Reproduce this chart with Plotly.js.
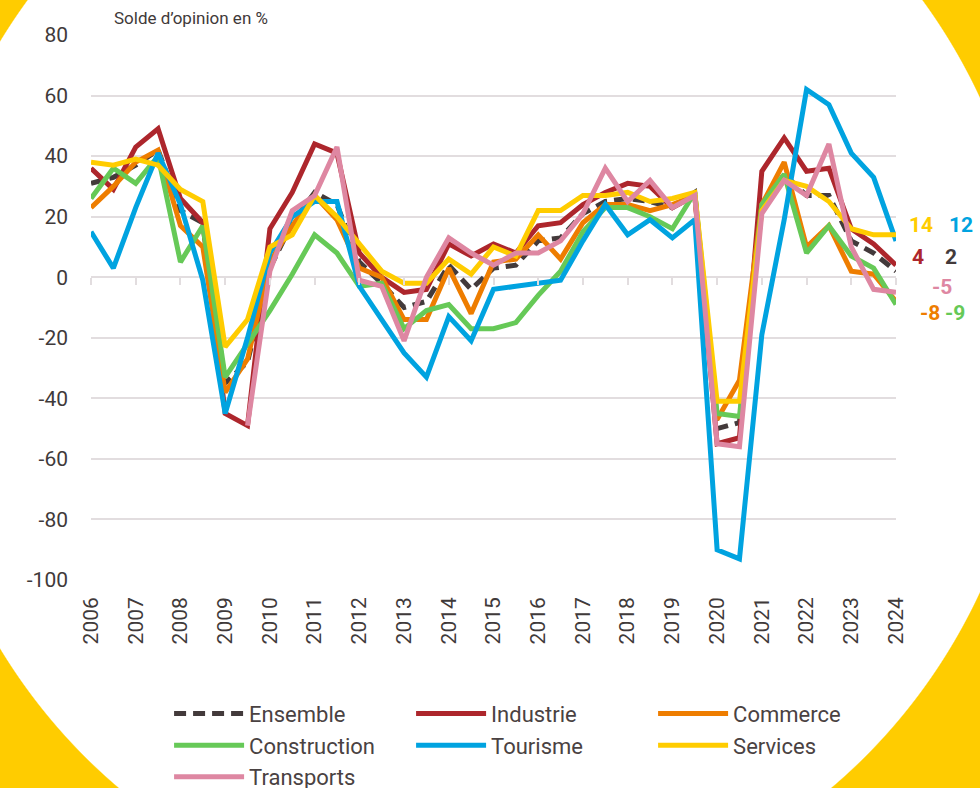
<!DOCTYPE html>
<html><head><meta charset="utf-8">
<script src="https://cdn.plot.ly/plotly-3.0.1.min.js"></script>
<style>
html,body{margin:0;padding:0;}
body{width:980px;height:788px;overflow:hidden;background:radial-gradient(ellipse 560px 575px at 475px 345px,#ffffff 99.8%,#ffcc00 100%);}
#chart{width:980px;height:788px;}
</style></head><body><div id="chart"></div>
<script>
const periods = [2006,2006.5,2007,2007.5,2008,2008.5,2009,2009.5,2010,2010.5,2011,2011.5,2012,2012.5,2013,2013.5,2014,2014.5,2015,2015.5,2016,2016.5,2017,2017.5,2018,2018.5,2019,2019.5,2020,2020.5,2021,2021.5,2022,2022.5,2023,2023.5,2024];
const yearTicks = [2006,2007,2008,2009,2010,2011,2012,2013,2014,2015,2016,2017,2018,2019,2020,2021,2022,2023,2024];
const yearLabels = ["2006","2007","2008","2009","2010","2011","2012","2013","2014","2015","2016","2017","2018","2019","2020","2021","2022","2023","2024"];
const yTicks = [80,60,40,20,0,-20,-40,-60,-80,-100];
const yLabels = ["80","60","40","20","0","-20","-40","-60","-80","-100"];

const ensemble     = [31,33,37,42,22,18,-35,-28,3,18,28,24,5,-2,-10,-8,4,-4,3,4,12,13,21,25,26,25,23,28,-50,-48,23,34,27,27,12,8,2];
const industrie    = [36,29,43,49,26,18,-45,-49,16,28,44,41,8,0,-5,-4,11,7,11,8,17,18,24,28,31,30,23,27,-55,-53,35,46,35,36,16,11,4];
const commerce     = [23,30,38,42,17,10,-38,-27,5,17,27,19,3,0,-14,-14,3,-12,5,6,14,6,18,24,24,22,24,27,-47,-34,24,38,10,17,2,1,-8];
const construction = [26,36,31,40,5,17,-33,-22,-11,1,14,8,-3,-2,-17,-11,-9,-17,-17,-15,-6,2,15,23,23,20,16,28,-45,-46,24,34,8,17,7,3,-9];
const tourisme     = [15,3,23,41,24,-1,-45,-20,8,20,25,25,-3,-14,-25,-33,-13,-21,-4,-3,-2,-1,12,24,14,19,13,19,-90,-93,-19,19,62,57,41,33,12];
const services     = [38,37,39,37,29,25,-23,-14,10,14,27,20,11,2,-2,-2,6,1,10,7,22,22,27,27,28,25,26,28,-41,-41,22,32,30,25,16,14,14];
const transports   = [null,null,null,null,null,null,null,-49,2,22,27,43,-1,-3,-21,0,13,8,4,8,8,12,21,36,25,32,23,27,-55,-56,21,32,27,44,10,-4,-5];

const seriesNames  = ["Ensemble","Industrie","Commerce","Construction","Tourisme","Services","Transports"];
const seriesData   = [ensemble,industrie,commerce,construction,tourisme,services,transports];
const seriesColors = ["#433a3b","#ad262c","#ee7d00","#66c957","#00a3e0","#ffcc00","#de87a2"];

const FONT = "Roboto, 'DejaVu Sans', sans-serif";
const TXT = "#3f3a3a";

const traces = seriesData.map((vals,i)=>({
  x: periods, y: vals, type:'scatter', mode:'lines', name: seriesNames[i],
  line:{color: seriesColors[i], width:5, dash: i===0 ? '12px,7px' : 'solid'},
  hoverinfo:'skip'
}));
// helper trace so the zero-line tick axis is drawn
traces.push({x:[2006,2024], y:[null,null], xaxis:'x2', type:'scatter', mode:'lines', showlegend:false, hoverinfo:'skip'});

// end-of-line value labels (positions are styling)
const labelPos = {
  Services:[1.031,17.2], Tourisme:[1.081,17.2], Industrie:[1.027,6.7], Ensemble:[1.068,6.7],
  Transports:[1.057,-3.2], Commerce:[1.042,-11.8], Construction:[1.073,-11.8]
};
const annotations = seriesNames.map((n,i)=>{
  const v = seriesData[i][seriesData[i].length-1];
  return {xref:'paper', yref:'y', x: labelPos[n][0], y: labelPos[n][1], text: String(v).replace('-','\u2011'),
    showarrow:false, font:{family:FONT, size:21, color: seriesColors[i], weight:700}, xanchor:'center', yanchor:'middle'};
});
annotations.push({xref:'paper', yref:'paper', x:0.026, y:1.031, xanchor:'left', yanchor:'middle',
  text:'Solde d\u2019opinion en %', showarrow:false, font:{family:FONT, size:17, color:TXT}});

const layout = {
  width:980, height:788,
  margin:{l:91, r:84, t:35, b:208, autoexpand:false},
  paper_bgcolor:'rgba(0,0,0,0)', plot_bgcolor:'rgba(0,0,0,0)',
  font:{family:FONT, color:TXT},
  xaxis:{range:[2006,2024], tickvals:yearTicks, ticktext:yearLabels, tickangle:-90, automargin:false,
    showgrid:false, zeroline:false, showline:false, ticks:'', ticklabelstandoff:12,
    tickfont:{family:FONT, size:21, color:TXT}, fixedrange:true},
  xaxis2:{overlaying:'x', anchor:'free', position:100/180, range:[2006,2024], tickvals:yearTicks,
    ticks:'outside', ticklen:7, tickwidth:2, tickcolor:'#e2dddf', showticklabels:false,
    showgrid:false, zeroline:false, showline:false},
  yaxis:{range:[-100,80], tickvals:yTicks, ticktext:yLabels, gridcolor:'#e2dddf', gridwidth:2, zeroline:false,
    showline:false, ticks:'', ticklabelstandoff:22, automargin:false, tickfont:{family:FONT, size:21, color:TXT}},
  showlegend:true,
  legend:{orientation:'h', x:0.097, xanchor:'left', y:-0.207, yanchor:'top',
    entrywidth:157, entrywidthmode:'pixels', itemwidth:70, tracegroupgap:0,
    font:{family:FONT, size:22, color:'#4a4242'}, bgcolor:'rgba(0,0,0,0)'},
  annotations: annotations
};
Plotly.newPlot('chart', traces, layout, {displayModeBar:false, staticPlot:true});
</script></body></html>
